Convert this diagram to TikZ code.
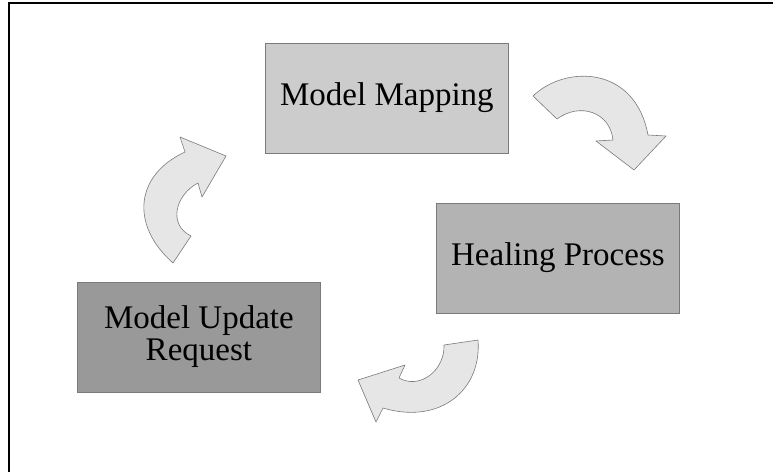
\documentclass[tikz,border=0pt]{standalone}
\usepackage{fontspec}
\setmainfont{Liberation Serif}
\definecolor{boxA}{HTML}{CCCCCC}
\definecolor{boxB}{HTML}{B3B3B3}
\definecolor{boxC}{HTML}{999999}
\definecolor{arrfill}{HTML}{E6E6E6}
\definecolor{edge}{HTML}{7A7A7A}
\newcommand{\wtext}[1]{{\fontsize{33}{32}\selectfont\begin{tabular}{@{}c@{}}#1\end{tabular}}}
\begin{document}
\begin{tikzpicture}[x=1pt,y=-1pt,
  procbox/.style={draw=edge,line width=0.8pt,minimum width=243pt,minimum height=110pt,inner sep=0pt,anchor=north west},
  blockarrow/.style={draw=edge,line width=0.6pt,fill=arrfill,line join=round}]
\useasboundingbox (0,0) rectangle (773,472);
\draw[line width=2.2pt] (9,472) -- (9,3) -- (773,3);
\node[procbox,fill=boxA] (map) at (265,43) {\wtext{Model Mapping}};
\node[procbox,fill=boxB] (heal) at (436,203) {\wtext{Healing Process}};
\node[procbox,fill=boxC] (upd) at (77,282) {\wtext{Model Update\\Request}};
% arrow Model Mapping -> Healing Process
\draw[blockarrow] (533,96) .. controls (565,65) and (635,65) .. (648,135)
  -- (666,136) -- (634,170) -- (596,141) -- (613,140)
  .. controls (610,112) and (580,102) .. (557,119) -- cycle;
% arrow Healing Process -> Model Update Request
\draw[blockarrow] (478,340) .. controls (482,390) and (440,425) .. (383,408)
  -- (376,422) -- (358,380) -- (405,365) -- (399,378)
  .. controls (420,390) and (445,370) .. (444,345) -- cycle;
% arrow Model Update Request -> Model Mapping
\draw[blockarrow] (173,263) .. controls (130,225) and (135,175) .. (185,152)
  -- (180,137) -- (226,156) -- (202,197) -- (198,183)
  .. controls (175,195) and (168,225) .. (191,236) -- cycle;
\end{tikzpicture}
\end{document}
